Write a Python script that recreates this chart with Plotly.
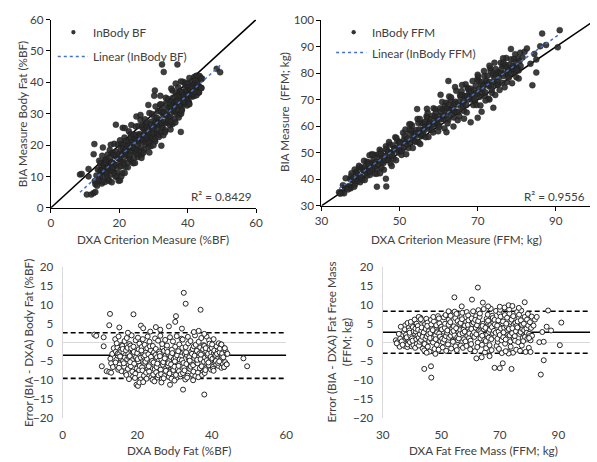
import plotly.graph_objects as go
import numpy as np

W, H = 597, 462

# ---------------- Body fat (%BF): DXA criterion and BIA error (BIA - DXA) ----------------
bf_dxa = [
    8.5, 9.0, 10.5, 11.0, 11.0, 11.8, 12.5, 12.7, 12.5, 12.8, 13.0, 13.0, 13.3, 13.5, 13.7,
    14.1, 14.3, 14.4, 14.6, 14.7, 14.8, 14.9, 14.2, 14.5, 14.8,
    15.0, 15.2, 15.3, 15.5, 15.6, 15.8, 15.9, 15.1, 15.4, 15.7,
    16.0, 16.2, 16.3, 16.5, 16.6, 16.8, 16.9, 16.1, 16.4, 16.7,
    17.0, 17.2, 17.3, 17.5, 17.6, 17.8, 17.9, 17.1, 17.4, 17.7,
    18.0, 18.2, 18.3, 18.5, 18.6, 18.8, 18.9, 18.1, 18.4, 18.7,
    19.0, 19.2, 19.3, 19.5, 19.6, 19.8, 19.9, 19.1, 19.4, 19.7,
    20.0, 20.2, 20.3, 20.5, 20.6, 20.8, 20.9, 20.1, 20.4, 20.7,
    21.0, 21.2, 21.3, 21.5, 21.6, 21.8, 21.9, 21.1, 21.4, 21.7,
    22.0, 22.2, 22.3, 22.5, 22.6, 22.8, 22.9, 22.1, 22.4, 22.7,
    23.0, 23.2, 23.3, 23.5, 23.6, 23.8, 23.9, 23.1, 23.4, 23.7,
    24.0, 24.2, 24.3, 24.5, 24.6, 24.8, 24.9, 24.1, 24.4, 24.7,
    25.0, 25.2, 25.3, 25.5, 25.6, 25.8, 25.9, 25.1, 25.4, 25.7,
    26.0, 26.2, 26.3, 26.5, 26.6, 26.8, 26.9, 26.1, 26.4, 26.7,
    27.0, 27.2, 27.3, 27.5, 27.6, 27.8, 27.9, 27.1, 27.4, 27.7,
    28.0, 28.2, 28.3, 28.5, 28.6, 28.8, 28.9, 28.1, 28.4, 28.7,
    29.0, 29.2, 29.3, 29.5, 29.6, 29.8, 29.9, 29.1, 29.4, 29.7,
    30.0, 30.2, 30.3, 30.5, 30.6, 30.8, 30.9, 30.1, 30.4, 30.7,
    31.0, 31.2, 31.3, 31.5, 31.6, 31.8, 31.9, 31.1, 31.4, 31.7,
    32.0, 32.2, 32.3, 32.5, 32.6, 32.8, 32.9, 32.1, 32.4, 32.7,
    33.0, 33.2, 33.3, 33.5, 33.6, 33.8, 33.9, 33.1, 33.4, 33.7,
    34.0, 34.2, 34.3, 34.5, 34.6, 34.8, 34.9, 34.1, 34.4, 34.7,
    35.0, 35.2, 35.3, 35.5, 35.6, 35.8, 35.9, 35.1, 35.4, 35.7,
    36.0, 36.2, 36.3, 36.5, 36.6, 36.8, 36.9, 36.1, 36.4, 36.7,
    37.0, 37.2, 37.3, 37.5, 37.6, 37.8, 37.9, 37.1, 37.4, 37.7,
    38.0, 38.2, 38.3, 38.5, 38.6, 38.8, 38.9, 38.1, 38.4, 38.7,
    39.0, 39.2, 39.3, 39.5, 39.6, 39.8, 39.9, 39.1, 39.4, 39.7,
    40.0, 40.2, 40.3, 40.5, 40.6, 40.8, 40.9, 40.1, 40.4, 40.7,
    41.0, 41.2, 41.3, 41.5, 41.6, 41.8, 41.9, 41.1, 41.4, 41.7,
    42.1, 42.3, 42.5, 42.7, 42.9, 42.2, 42.6, 42.8,
    43.1, 43.4, 43.6, 43.3, 43.8, 44.0, 44.0,
    15.2, 19.0, 21.0, 21.6, 25.0, 26.2, 28.5, 30.2, 30.4, 32.5, 33.0, 32.0, 37.0, 35.2, 38.0,
    17.5, 23.5, 36.5,
    19.8, 20.2, 20.6, 21.6, 28.8, 32.3, 38.0, 40.5, 38.3, 24.6, 30.0, 35.0, 17.8, 26.5,
    42.6, 43.5, 43.3, 44.0, 48.5, 49.5, 44.2, 42.0,
]
bf_err = [
    2.1, 1.8, -6.3, 1.4, -1.0, -7.6, -7.8, 7.6, 4.6, -4.3, -5.5, -8.0, -3.0, -6.5, -1.5,
    0.9, -2.4, -4.6, -6.1, -1.3, -3.5, -7.2, -5.3, -0.2, -2.9,
    1.6, -3.0, -5.8, -1.9, -4.2, -7.6, -0.6, -6.7, -3.7, -2.3,
    -0.9, -4.9, -2.6, -6.4, 0.4, -3.3, -8.1, -1.7, -5.5, -4.0,
    -2.1, 1.2, -4.4, -7.0, -3.1, -5.9, -0.4, -8.6, -1.4, -3.8,
    -3.6, -0.8, -6.3, 1.9, -4.7, -2.2, -9.0, -5.2, -1.5, -7.7,
    -1.1, -5.6, -3.2, -8.3, 0.6, -4.1, -6.9, -2.5, -9.4, -3.9,
    -2.8, 1.3, -5.0, -7.3, -0.3, -3.6, -9.8, -4.4, -1.8, -6.2,
    -4.0, -1.2, -6.6, 0.9, -3.0, -8.8, -5.4, -2.1, -7.4, -3.7,
    -0.6, -5.1, -2.7, -9.6, -4.3, 1.6, -6.8, -3.4, -8.0, -1.5,
    -3.1, -7.7, 0.2, -5.7, -2.0, -9.2, -4.6, -6.3, -1.0, -3.8,
    -4.9, -0.9, -8.5, -2.6, -6.0, 1.1, -3.3, -9.9, -5.3, -7.1,
    -1.7, -6.5, -3.9, -9.3, 0.5, -4.8, -2.4, -7.9, -5.6, -8.7,
    -2.9, 1.8, -7.2, -4.5, -9.7, -1.3, -5.9, -3.6, -8.4, -0.4,
    -5.2, -2.2, -8.9, 0.7, -3.5, -6.7, -1.6, -9.5, -4.2, -7.5,
    -0.8, -6.1, -3.0, -9.1, -4.9, 1.4, -7.8, -2.5, -5.5, -8.2,
    -3.8, -9.6, -1.9, -6.9, 0.3, -4.4, -8.0, -5.8, -2.8, -7.3,
    -6.4, -1.1, -4.0, -9.4, 1.7, -2.9, -7.1, -5.0, -8.6, -3.4,
    -2.3, -7.6, -0.5, -5.2, -9.0, -3.7, 1.0, -6.2, -4.5, -8.4,
    -4.7, 0.8, -8.1, -2.0, -6.6, -3.1, -9.8, -1.4, -5.4, -7.4,
    -1.2, -5.7, -3.3, -8.8, 1.5, -4.3, -6.9, -2.6, -9.3, -0.2,
    -3.9, -7.0, 0.4, -2.4, -5.8, -8.5, -1.7, -4.8, -6.4, -3.0,
    -6.0, -1.0, -4.1, 1.9, -8.9, -2.7, -5.3, -7.7, -3.5, -0.6,
    -2.2, -5.5, -8.0, 0.2, -3.8, -6.8, -1.3, -4.6, -9.2, -2.9,
    -4.4, 1.2, -6.3, -2.5, -7.9, -0.7, -5.1, -3.2, -8.6, -1.8,
    -0.9, -4.0, -6.9, -2.3, 1.6, -5.6, -3.4, -8.1, -1.5, -4.7,
    -3.0, -6.0, 0.6, -1.9, -4.9, -7.2, -2.7, -5.3, -0.3, -3.8,
    -1.4, -4.3, -6.5, 0.9, -2.8, -5.1, -3.6, -0.5, -7.0, -2.1,
    -3.3, -5.8, -1.0, -4.4, -2.3, -6.2, -0.2, -4.9, -3.0, -5.4,
    -2.6, -4.7, -0.5, -3.5, -5.6, -1.6, -6.7, -2.9,
    -3.9, -1.5, -5.2, -6.5, -2.4, -5.8, -3.0,
    4.0, 7.5, 4.5, 3.8, 4.1, 3.4, 4.3, 5.5, 7.0, 13.2, 10.3, 3.7, 8.7, 2.8, 2.3,
    2.6, 2.9, 3.1,
    -11.2, -11.5, -10.6, -10.5, -11.2, -12.5, -13.8, -7.5, -7.3, -10.3, -10.1, -10.0, -9.7, -10.6,
    -0.5, -1.5, -6.5, -5.8, -4.2, -6.3, -3.0, -5.0,
]

# ---------------- Fat-free mass (FFM; kg): DXA criterion and BIA error ----------------
ffm_dxa = [
    37.1, 37.3, 37.5, 37.7, 37.9, 37.2, 37.6,
    38.0, 38.4, 38.5, 38.8, 38.9, 38.2, 38.6,
    39.1, 39.3, 39.4, 39.7, 39.9, 39.2, 39.6,
    40.0, 40.3, 40.5, 40.8, 40.9, 40.2, 40.6,
    41.1, 41.3, 41.5, 41.6, 41.9, 41.2, 41.7,
    42.0, 42.3, 42.4, 42.7, 42.9, 42.1, 42.6,
    43.1, 43.2, 43.5, 43.7, 43.8, 43.3, 43.6,
    44.0, 44.3, 44.5, 44.6, 44.9, 44.2, 44.7,
    45.1, 45.3, 45.4, 45.7, 45.9, 45.2, 45.6,
    46.0, 46.3, 46.5, 46.8, 46.9, 46.2, 46.6,
    47.1, 47.2, 47.5, 47.7, 47.8, 47.3, 47.6,
    48.0, 48.3, 48.5, 48.7, 48.9, 48.1, 48.6,
    49.1, 49.3, 49.4, 49.7, 49.9, 49.2, 49.6,
    50.0, 50.3, 50.5, 50.8, 50.9, 50.2, 50.6,
    51.1, 51.2, 51.5, 51.7, 51.9, 51.3, 51.6,
    52.0, 52.3, 52.5, 52.7, 52.8, 52.1, 52.6,
    53.1, 53.3, 53.4, 53.7, 53.9, 53.2, 53.6,
    54.0, 54.3, 54.5, 54.8, 54.9, 54.2, 54.6,
    55.1, 55.3, 55.5, 55.6, 55.9, 55.2, 55.7,
    56.0, 56.2, 56.5, 56.7, 56.9, 56.3, 56.6,
    57.1, 57.3, 57.4, 57.7, 57.8, 57.2, 57.6,
    58.0, 58.3, 58.5, 58.7, 58.9, 58.1, 58.6,
    59.1, 59.2, 59.5, 59.7, 59.9, 59.3, 59.6,
    60.0, 60.3, 60.4, 60.7, 60.9, 60.2, 60.6,
    61.1, 61.3, 61.5, 61.8, 61.9, 61.2, 61.6,
    62.0, 62.2, 62.5, 62.7, 62.8, 62.3, 62.6,
    63.1, 63.3, 63.4, 63.7, 63.9, 63.2, 63.6,
    64.0, 64.3, 64.5, 64.6, 64.9, 64.1, 64.7,
    65.1, 65.2, 65.5, 65.7, 65.9, 65.3, 65.6,
    66.0, 66.3, 66.5, 66.8, 66.9, 66.2, 66.6,
    67.1, 67.3, 67.4, 67.7, 67.8, 67.2, 67.6,
    68.0, 68.2, 68.5, 68.7, 68.9, 68.3, 68.6,
    69.1, 69.3, 69.5, 69.6, 69.9, 69.2, 69.7,
    70.0, 70.3, 70.4, 70.7, 70.9, 70.1, 70.6,
    71.1, 71.2, 71.5, 71.7, 71.8, 71.3, 71.6,
    72.0, 72.3, 72.5, 72.8, 72.9, 72.2, 72.6,
    73.1, 73.3, 73.4, 73.7, 73.9, 73.2, 73.6,
    74.0, 74.2, 74.5, 74.7, 74.8, 74.3, 74.6,
    75.1, 75.3, 75.5, 75.6, 75.9, 75.2, 75.7,
    76.0, 76.3, 76.4, 76.7, 76.9, 76.1, 76.6,
    77.1, 77.2, 77.5, 77.7, 77.8, 77.3, 77.6,
    78.0, 78.3, 78.5, 78.8, 78.9, 78.2, 78.6,
    79.1, 79.3, 79.4, 79.7, 79.9, 79.2, 79.6,
    80.0, 80.3, 80.5, 80.7, 80.9, 80.2,
    34.5, 35.0, 35.3, 35.8, 36.0, 36.2, 35.5, 36.5, 34.8, 36.8,
    42.3, 43.0,
    44.2, 46.5, 46.6, 45.0, 48.0,
    52.5, 54.5, 60.5, 62.5, 64.2, 66.0, 70.0, 73.0, 74.3, 76.5, 78.5, 57.0,
    62.0, 63.8, 66.5, 68.2, 70.0, 71.0, 74.0, 73.0, 72.0,
    80.5, 81.0, 82.0, 82.6, 83.5, 84.0, 84.5, 85.0, 85.0, 86.0, 86.5, 87.5, 90.5, 91.0, 81.5, 80.0,
]
ffm_err = [
    0.4, 2.8, -0.9, 4.6, 1.7, -0.2, 3.5,
    2.1, -1.2, 5.2, 0.8, 3.9, 1.4, -0.5,
    3.2, 0.1, 1.9, 4.8, -1.0, 2.6, 5.5,
    1.1, 4.1, -0.7, 2.4, 6.1, 0.5, 3.0,
    -1.4, 2.9, 0.9, 5.0, 1.8, 3.7, -0.3,
    4.4, 1.3, -0.8, 2.2, 6.6, 3.4, 0.2,
    0.7, 3.1, 5.8, -1.6, 2.0, 4.0, 1.5,
    2.7, -0.4, 4.9, 1.0, 6.3, -2.1, 3.6,
    1.6, 5.3, -1.1, 3.0, 0.3, 4.4, 2.2,
    -2.4, 2.5, 6.0, 0.6, 3.8, 1.2, 4.8,
    3.3, 0.0, 5.6, -1.7, 2.1, 6.8, 1.4,
    1.9, 4.6, -0.6, 3.0, 7.0, 0.9, 2.7,
    -1.9, 2.4, 5.1, 0.4, 3.7, 6.4, 1.6,
    4.2, 1.0, -1.3, 2.9, 6.7, 3.5, 0.1,
    0.8, 3.9, 7.3, -2.2, 2.3, 5.0, 1.7,
    2.6, -0.5, 4.7, 1.3, 8.0, 3.2, 6.1,
    5.4, 1.8, -1.6, 3.6, 0.5, 7.1, 2.8,
    0.2, 4.3, 2.0, 6.5, -1.0, 3.1, 8.2,
    3.8, -2.0, 1.4, 5.7, 2.7, 7.6, 0.6,
    1.1, 4.9, 3.3, -0.8, 6.9, 2.2, 5.2,
    6.2, 2.5, -1.4, 4.0, 0.9, 7.9, 3.4,
    2.9, 0.3, 5.5, 8.1, 1.7, 4.5, -0.9,
    4.7, 7.2, 1.2, 3.0, -1.8, 5.9, 2.4,
    0.5, 3.6, 6.4, 2.0, 8.3, -0.4, 4.9,
    5.3, 1.5, -2.3, 3.9, 7.0, 2.7, 6.0,
    2.2, 4.6, 0.0, 8.6, 3.2, -1.2, 5.7,
    6.8, 3.0, 1.1, 4.2, -0.6, 7.7, 2.5,
    1.8, 5.0, 8.9, 3.5, -2.6, 4.4, 0.7,
    3.9, 0.4, 6.3, 2.1, 7.4, -1.5, 5.5,
    5.8, 2.8, -0.7, 4.6, 9.0, 1.3, 3.4,
    0.9, 4.1, 7.1, 2.4, 5.3, -2.0, 6.5,
    3.1, 6.0, 1.6, 8.4, -0.9, 4.8, 2.6,
    4.5, 0.2, 5.9, 2.9, 7.8, 1.0, -1.7,
    2.0, 6.9, 3.7, -2.8, 5.1, 8.7, 0.6,
    5.6, 1.4, 3.9, 7.3, -0.3, 2.7, 9.3,
    0.8, 4.3, 6.6, -2.4, 2.2, 5.0, 3.3,
    3.6, 7.7, 1.9, -1.1, 5.4, 8.8, 0.3,
    6.1, 2.5, -2.7, 4.7, 0.9, 3.8, 7.0,
    1.7, 5.2, 3.0, -1.9, 8.1, 0.5, 4.4,
    4.0, 0.1, 6.4, 2.3, -2.2, 5.6, 7.4,
    2.8, 5.9, -0.8, 3.6, 1.2, 8.5, 4.7,
    0.4, 3.3, 6.8, -2.5, 2.0, 5.0, 1.5,
    3.7, 6.1, 1.0, 4.5, -1.4, 2.6, 7.6,
    2.3, 5.4, 0.6, 3.9, 6.9, 1.7,
    0.6, 0.1, -0.4, -1.1, 1.0, 4.2, 2.3, 0.3, -0.2, -0.6,
    6.8, 6.2,
    -7.0, -6.3, -9.3, -2.7, -3.0,
    8.3, 12.0, 11.4, 14.6, 10.6, 9.6, 9.5, 9.9, 9.7, 9.2, 10.7, 9.6,
    -4.2, -3.9, -3.6, -6.7, -6.8, -5.5, -7.0, -2.9, -2.3,
    -2.5, 1.8, 6.1, 6.8, 0.1, -8.5, 2.8, -4.7, 0.2, 4.2, 8.5, 3.2, -0.7, 5.3, 4.5, 1.2,
]

bf_bia = [round(d + e, 1) for d, e in zip(bf_dxa, bf_err)]
ffm_bia = [round(d + e, 1) for d, e in zip(ffm_dxa, ffm_err)]

# identity lines, agreement lines, R² labels
bf_identity = [0, 60]
ffm_identity = [30, 100]
bf_bias, bf_loa_low, bf_loa_high = -3.4, -9.5, 2.6
ffm_bias, ffm_loa_low, ffm_loa_high = 2.7, -2.85, 8.3
bf_r2_label = "R² = 0.8429"
ffm_r2_label = "R² = 0.9556"

# ---------------- styling helpers ----------------
FONT = "Lato"
TXT = "#404040"
FS = 11.7


def px(x):
    return x / W


def py(y):
    return 1 - y / H


fig = go.Figure()

filled = dict(size=6, color="rgba(42,42,42,0.9)", line=dict(width=0.4, color="#1a1a1a"))
opened = dict(size=5, color="white", line=dict(width=1, color="#262626"), symbol="circle")

# ---- top-left ----
fig.add_trace(go.Scatter(x=bf_identity, y=bf_identity, mode="lines",
                         line=dict(color="black", width=1.5), xaxis="x", yaxis="y"))
fig.add_trace(go.Scatter(x=bf_dxa, y=bf_bia, mode="markers", marker=filled, xaxis="x", yaxis="y"))
k, b = np.polyfit(bf_dxa, bf_bia, 1)
tx = [min(bf_dxa), max(bf_dxa)]
fig.add_trace(go.Scatter(x=tx, y=[k * v + b for v in tx], mode="lines",
                         line=dict(color="#4472C4", width=1.5, dash="dot"), xaxis="x", yaxis="y"))

# ---- top-right ----
fig.add_trace(go.Scatter(x=ffm_identity, y=ffm_identity, mode="lines",
                         line=dict(color="black", width=1.5), xaxis="x2", yaxis="y2"))
fig.add_trace(go.Scatter(x=ffm_dxa, y=ffm_bia, mode="markers", marker=filled, xaxis="x2", yaxis="y2"))
k2, b2 = np.polyfit(ffm_dxa, ffm_bia, 1)
tx2 = [min(ffm_dxa), max(ffm_dxa)]
fig.add_trace(go.Scatter(x=tx2, y=[k2 * v + b2 for v in tx2], mode="lines",
                         line=dict(color="#4472C4", width=1.5, dash="dot"), xaxis="x2", yaxis="y2"))

# ---- bottom-left ----
bl_x = [0, 60]
fig.add_trace(go.Scatter(x=bl_x, y=[bf_loa_high] * 2, mode="lines",
                         line=dict(color="black", width=1.6, dash="5px,3px"), xaxis="x3", yaxis="y3"))
fig.add_trace(go.Scatter(x=bl_x, y=[bf_loa_low] * 2, mode="lines",
                         line=dict(color="black", width=1.6, dash="5px,3px"), xaxis="x3", yaxis="y3"))
fig.add_trace(go.Scatter(x=bl_x, y=[bf_bias] * 2, mode="lines",
                         line=dict(color="black", width=1.5), xaxis="x3", yaxis="y3"))
fig.add_trace(go.Scatter(x=bf_dxa, y=bf_err, mode="markers", marker=opened, xaxis="x3", yaxis="y3"))

# ---- bottom-right ----
br_x = [30, 101]
fig.add_trace(go.Scatter(x=br_x, y=[ffm_loa_high] * 2, mode="lines",
                         line=dict(color="black", width=1.6, dash="5px,3px"), xaxis="x4", yaxis="y4"))
fig.add_trace(go.Scatter(x=br_x, y=[ffm_loa_low] * 2, mode="lines",
                         line=dict(color="black", width=1.6, dash="5px,3px"), xaxis="x4", yaxis="y4"))
fig.add_trace(go.Scatter(x=br_x, y=[ffm_bias] * 2, mode="lines",
                         line=dict(color="black", width=1.5), xaxis="x4", yaxis="y4"))
fig.add_trace(go.Scatter(x=ffm_dxa, y=ffm_err, mode="markers", marker=opened, xaxis="x4", yaxis="y4"))

tickfont = dict(family=FONT, size=FS, color=TXT)
top_axis = dict(showline=True, linecolor="black", linewidth=1.2, ticks="outside", ticklen=4,
                tickcolor="black", showgrid=False, zeroline=False, tickfont=tickfont, fixedrange=True)
bot_x = dict(showline=False, ticks="outside", ticklen=6, tickcolor="rgba(0,0,0,0)",
             showgrid=False, zeroline=False, tickfont=tickfont, fixedrange=True)
bot_y = dict(showline=True, linecolor="#d9d9d9", linewidth=1, ticks="outside", ticklen=6,
             tickcolor="rgba(0,0,0,0)", showgrid=False, zeroline=True, zerolinecolor="#d9d9d9",
             zerolinewidth=1, tickfont=tickfont, range=[-20, 20], tickvals=list(range(-20, 21, 5)),
             fixedrange=True)

fig.update_layout(
    width=W, height=H, margin=dict(l=0, r=0, t=0, b=0),
    paper_bgcolor="white", plot_bgcolor="white", showlegend=False,
    font=dict(family=FONT, size=FS, color=TXT),
    xaxis=dict(top_axis, domain=[px(45), px(255)], range=[0, 60], tickvals=[0, 20, 40, 60], anchor="y"),
    yaxis=dict(top_axis, domain=[py(206), py(12)], range=[0, 60], tickvals=list(range(0, 61, 10)), anchor="x"),
    xaxis2=dict(top_axis, domain=[px(322), 1.0], range=[30, 98.75], tickvals=[30, 50, 70, 90], anchor="y2"),
    yaxis2=dict(top_axis, domain=[py(204), py(12.7)], range=[30, 100], tickvals=list(range(30, 101, 10)), anchor="x2"),
    xaxis3=dict(bot_x, domain=[px(57), px(286)], range=[0, 60], tickvals=[0, 20, 40, 60], anchor="y3"),
    yaxis3=dict(bot_y, domain=[py(422.7), py(267.3)], anchor="x3"),
    xaxis4=dict(bot_x, domain=[px(384.7), 1.0], range=[30, 100.8], tickvals=[30, 50, 70, 90], anchor="y4"),
    yaxis4=dict(bot_y, domain=[py(422.7), py(267.3)], anchor="x4"),
)

ann = []


def text(x, y, s, angle=0, xanchor="center", size=FS):
    ann.append(dict(x=px(x), y=py(y), xref="paper", yref="paper", text=s, showarrow=False,
                    textangle=angle, xanchor=xanchor, yanchor="middle",
                    font=dict(family=FONT, size=size, color=TXT)))


# axis titles
text(15, 109, "BIA Measure Body Fat (%BF)", angle=-90)
text(150, 238, "DXA Criterion Measure (%BF)")
text(283, 107, "BIA Measure  (FFM; kg)", angle=-90)
text(460, 238, "DXA Criterion Measure (FFM; kg)")
text(21, 346, "Error (BIA - DXA) Body Fat (%BF)", angle=-90)
text(177, 456, "DXA Body Fat (%BF)")
text(339, 345, "Error (BIA - DXA) Fat Free Mass<br>(FFM; kg)", angle=-90)
text(488, 456, "DXA Fat Free Mass (FFM; kg)")

# legends
text(86, 25, "InBody BF", xanchor="left")
text(86, 50, "Linear (InBody BF)", xanchor="left")
text(372, 25, "InBody FFM", xanchor="left")
text(372, 46, "Linear (InBody FFM)", xanchor="left")

# R² labels
text(253, 194, bf_r2_label, xanchor="right")
text(594, 194, ffm_r2_label, xanchor="right")

shapes = []
for cx, cy in [(68, 25), (355, 25)]:
    shapes.append(dict(type="circle", xref="paper", yref="paper",
                       x0=px(cx - 2.2), x1=px(cx + 2.2), y0=py(cy + 2.2), y1=py(cy - 2.2),
                       fillcolor="#333333", line=dict(width=0)))
for x0, x1, yy in [(52, 83, 50), (337, 368, 46)]:
    shapes.append(dict(type="line", xref="paper", yref="paper", x0=px(x0), x1=px(x1),
                       y0=py(yy), y1=py(yy), line=dict(color="#4472C4", width=1.5, dash="dot")))

fig.update_layout(annotations=ann, shapes=shapes)
fig.write_html("out.html", config={"displayModeBar": False},
               post_script="document.body.style.margin='0';document.body.style.padding='0';")
